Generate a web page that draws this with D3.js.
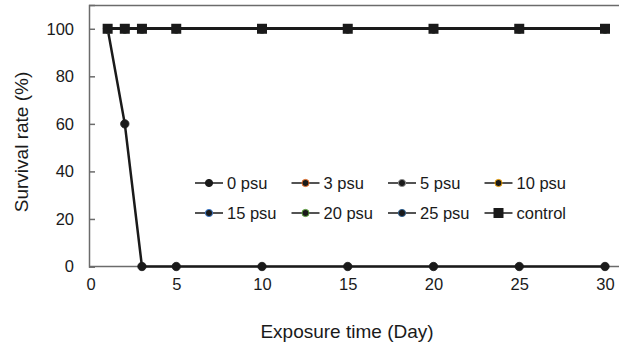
<!DOCTYPE html>
<html>
<head>
<meta charset="utf-8">
<script src="https://cdn.jsdelivr.net/npm/d3@7"></script>
<style>
  body { margin: 0; background: #fff; }
  text { font-family: "Liberation Sans", Arial, sans-serif; fill: #1a1a1a; }
</style>
</head>
<body>
<div id="my_dataviz"></div>
<script>
// exposure days
var days = [1, 2, 3, 5, 10, 15, 20, 25, 30];

// survival rate (%) for each salinity group
var names = ["0 psu", "3 psu", "5 psu", "10 psu", "15 psu", "20 psu", "25 psu", "control"];
var psu0 = [100, 60, 0, 0, 0, 0, 0, 0, 0];
var psu3 = [100, 100, 100, 100, 100, 100, 100, 100, 100];
var psu5 = [100, 100, 100, 100, 100, 100, 100, 100, 100];
var psu10 = [100, 100, 100, 100, 100, 100, 100, 100, 100];
var psu15 = [100, 100, 100, 100, 100, 100, 100, 100, 100];
var psu20 = [100, 100, 100, 100, 100, 100, 100, 100, 100];
var psu25 = [100, 100, 100, 100, 100, 100, 100, 100, 100];
var control = [100, 100, 100, 100, 100, 100, 100, 100, 100];
var allValues = [psu0, psu3, psu5, psu10, psu15, psu20, psu25, control];

var xTicks = [0, 5, 10, 15, 20, 25, 30];
var yTicks = [0, 20, 40, 60, 80, 100];

var strokes = ["#1a1a1a", "#e8702a", "#8a8a8a", "#f0a30a", "#3c78c8", "#5ea33e", "#2e5e8c", "#1a1a1a"];

// set the dimensions and margins of the graph
var margin = {top: 5, right: 0, bottom: 79, left: 89},
    width = 619 - margin.left - margin.right,
    height = 346 - margin.top - margin.bottom;

var svg = d3.select("#my_dataviz")
  .append("svg")
    .attr("width", 619)
    .attr("height", 346)
  .append("g")
    .attr("transform", "translate(" + margin.left + "," + margin.top + ")");

var x = d3.scaleLinear().domain([0, 30]).range([1.5, 516]);
var y = d3.scaleLinear().domain([0, 110]).range([height - 0.5, 0]);

// top border
svg.append("line")
  .attr("x1", 0).attr("x2", width)
  .attr("y1", 0.5).attr("y2", 0.5)
  .attr("stroke", "#6b6b6b").attr("stroke-width", 1.5);

// Y axis, ticks pointing inward
var yAxis = svg.append("g")
  .call(d3.axisRight(y).tickValues(yTicks).tickSize(6).tickFormat(d3.format("d")));
yAxis.select(".domain").attr("stroke", "#6b6b6b").attr("stroke-width", 1.5);
yAxis.selectAll(".tick line").attr("stroke", "#6b6b6b").attr("stroke-width", 1.5);
yAxis.selectAll("text")
  .attr("x", -15)
  .attr("text-anchor", "end")
  .style("font-size", "16.5px");

// X axis, no tick marks
var xAxis = svg.append("g")
  .attr("transform", "translate(0," + y(0) + ")")
  .call(d3.axisBottom(x).tickValues(xTicks).tickSize(0).tickPadding(12));
xAxis.select(".domain").remove();
xAxis.append("line")
  .attr("x1", 0).attr("x2", width)
  .attr("stroke", "#6b6b6b").attr("stroke-width", 1.5);
xAxis.selectAll("text").style("font-size", "16.5px");

// axis titles
svg.append("text")
  .attr("x", 347 - margin.left)
  .attr("y", 338 - margin.top)
  .attr("text-anchor", "middle")
  .style("font-size", "19px")
  .text("Exposure time (Day)");

svg.append("text")
  .attr("transform", "translate(" + (28 - margin.left) + "," + (142 - margin.top) + ") rotate(-90)")
  .attr("text-anchor", "middle")
  .style("font-size", "19px")
  .text("Survival rate (%)");

// lines and markers
var line = d3.line()
  .x(function(d) { return x(d.day); })
  .y(function(d) { return y(d.value); });

allValues.forEach(function(vals, i) {
  var pts = days.map(function(d, j) { return {day: d, value: vals[j]}; });
  svg.append("path")
    .datum(pts)
    .attr("fill", "none")
    .attr("stroke", "#1a1a1a")
    .attr("stroke-width", 2.5)
    .attr("d", line);
  if (names[i] === "control") {
    svg.selectAll(".sq" + i)
      .data(pts).enter()
      .append("rect")
      .attr("x", function(d) { return x(d.day) - 5; })
      .attr("y", function(d) { return y(d.value) - 5; })
      .attr("width", 10).attr("height", 10)
      .attr("fill", "#1a1a1a");
  } else {
    svg.selectAll(".pt" + i)
      .data(pts).enter()
      .append("circle")
      .attr("cx", function(d) { return x(d.day); })
      .attr("cy", function(d) { return y(d.value); })
      .attr("r", 4.2)
      .attr("fill", "#1a1a1a")
      .attr("stroke", i === 0 ? "#1a1a1a" : strokes[i])
      .attr("stroke-width", 0.8);
  }
});

// legend
var legend = svg.append("g");
names.forEach(function(n, i) {
  var col = i % 4, row = Math.floor(i / 4);
  var lx = 195 + col * 96.5 - margin.left;
  var ly = 183 + row * 30 - margin.top;
  var g = legend.append("g").attr("transform", "translate(" + lx + "," + ly + ")");
  g.append("line")
    .attr("x1", 0).attr("x2", 28)
    .attr("stroke", "#1a1a1a").attr("stroke-width", 1.5);
  if (n === "control") {
    g.append("rect").attr("x", 9).attr("y", -5).attr("width", 10).attr("height", 10).attr("fill", "#1a1a1a");
  } else {
    g.append("circle").attr("cx", 14).attr("r", 3.6)
      .attr("fill", "#1a1a1a").attr("stroke", strokes[i]).attr("stroke-width", 1);
  }
  g.append("text")
    .attr("x", 32).attr("y", 6)
    .style("font-size", "16.5px")
    .text(n);
});
</script>
</body>
</html>
